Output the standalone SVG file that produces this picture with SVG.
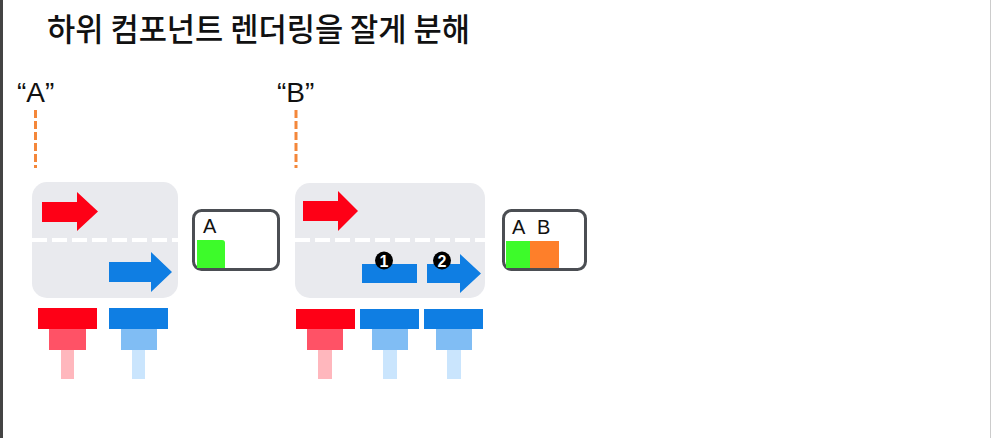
<svg xmlns="http://www.w3.org/2000/svg" width="991" height="438" viewBox="0 0 991 438">
  <style>
    .title { font-family: "Noto Sans CJK KR", "Noto Sans", sans-serif; font-size: 32px; font-weight: 500; fill: #111; }
    .lbl { font-family: "Liberation Sans", Arial, sans-serif; font-size: 28px; fill: #111; }
    .cell { font-family: "Liberation Sans", Arial, sans-serif; font-size: 20px; fill: #111; }
    .panel { fill: #e9eaee; }
    .split { stroke: #ffffff; stroke-width: 4; stroke-dasharray: 15 5; fill: none; }
    .red { fill: #fe0016; }
    .blue { fill: #0f7ee3; }
    .red2 { fill: #ff5266; }
    .red3 { fill: #ffb7bd; }
    .blue2 { fill: #80bdf4; }
    .blue3 { fill: #cae5fd; }
    .store { fill: #ffffff; stroke: #4b4e53; stroke-width: 3; }
    .green { fill: #3dfb2a; }
    .orange { fill: #fe7f2a; }
    .guide { stroke: #f4873a; stroke-width: 3; stroke-dasharray: 8 3; fill: none; }
    .badge { fill: #000; }
    .badgeText { font-family: "Liberation Sans", Arial, sans-serif; font-size: 16px; font-weight: bold; fill: #fff; text-anchor: middle; }
  </style>

  <rect x="0" y="0" width="991" height="438" fill="#ffffff"/>
  <rect x="0" y="0" width="3" height="438" fill="#444444"/>
  <rect x="990" y="0" width="1" height="438" fill="#cccccc"/>

  <g id="title">
    <text class="title" x="47" y="41" textLength="423" lengthAdjust="spacingAndGlyphs">하위 컴포넌트 렌더링을 잘게 분해</text>
  </g>

  <g id="label-A">
    <text class="lbl" x="17" y="102">“A”</text>
  </g>
  <g id="label-B">
    <text class="lbl" x="277" y="102">“B”</text>
  </g>

  <g id="connectors">
    <line class="guide" x1="35.5" y1="110" x2="35.5" y2="168"/>
    <line class="guide" x1="296" y1="110" x2="296" y2="168"/>
  </g>

  <g id="panel-A">
    <rect class="panel" x="32" y="182" width="146" height="116" rx="15"/>
    <line class="split" x1="32" y1="240" x2="178" y2="240"/>
    <path class="red" d="M42,202 H77 V192 L98,211.5 L77,231 V222 H42 Z"/>
    <path class="blue" d="M109,262 H151 V252 L172,272 L151,292 V282 H109 Z"/>
  </g>

  <g id="store-A">
    <rect class="store" x="193.5" y="210.5" width="85" height="59" rx="8"/>
    <path class="green" d="M197,240 H222 Q225,240 225,243 V268 H197 Z"/>
    <text class="cell" x="203" y="233">A</text>
  </g>

  <g id="stack-A-red">
    <rect class="red" x="38" y="308" width="59" height="21"/>
    <rect class="red2" x="49" y="329" width="37" height="21"/>
    <rect class="red3" x="61" y="350" width="13" height="29"/>
  </g>
  <g id="stack-A-blue">
    <rect class="blue" x="109" y="308" width="59" height="21"/>
    <rect class="blue2" x="121" y="329" width="36" height="21"/>
    <rect class="blue3" x="132" y="350" width="13" height="29"/>
  </g>

  <g id="panel-B">
    <rect class="panel" x="295" y="183" width="190" height="115" rx="15"/>
    <line class="split" x1="295" y1="240" x2="485" y2="240"/>
    <path class="red" d="M303,201 H338 V191 L358,211 L338,231 V221 H303 Z"/>
    <rect class="blue" x="362" y="264" width="55" height="19"/>
    <path class="blue" d="M427,264 H460 V254 L481,273.5 L460,293 V283 H427 Z"/>
    <g id="badge-1">
      <circle class="badge" cx="384" cy="260.5" r="9"/>
      <text class="badgeText" x="384" y="266.5">1</text>
    </g>
    <g id="badge-2">
      <circle class="badge" cx="442" cy="260.5" r="9"/>
      <text class="badgeText" x="442" y="266.5">2</text>
    </g>
  </g>

  <g id="store-B">
    <rect class="store" x="503.5" y="210.5" width="82" height="59" rx="8"/>
    <rect class="green" x="506" y="241" width="24" height="27"/>
    <path class="orange" d="M530,241 H559 V268 H530 Z"/>
    <text class="cell" x="512" y="234">A</text>
    <text class="cell" x="537" y="234">B</text>
  </g>

  <g id="stack-B-red">
    <rect class="red" x="296" y="309" width="59" height="20"/>
    <rect class="red2" x="307" y="329" width="36" height="21"/>
    <rect class="red3" x="318" y="350" width="14" height="29"/>
  </g>
  <g id="stack-B-blue1">
    <rect class="blue" x="360" y="309" width="59" height="20"/>
    <rect class="blue2" x="372" y="329" width="36" height="21"/>
    <rect class="blue3" x="383" y="350" width="14" height="29"/>
  </g>
  <g id="stack-B-blue2">
    <rect class="blue" x="424" y="309" width="59" height="20"/>
    <rect class="blue2" x="436" y="329" width="36" height="21"/>
    <rect class="blue3" x="447" y="350" width="14" height="29"/>
  </g>
</svg>
